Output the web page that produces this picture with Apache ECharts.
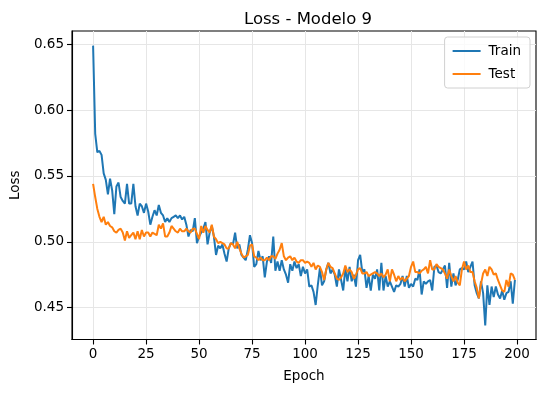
<!DOCTYPE html>
<html>
<head>
<meta charset="utf-8">
<script src="https://cdn.jsdelivr.net/npm/echarts@6/dist/echarts.min.js"></script>
<style>
html,body{margin:0;padding:0;background:#fff;}
#chart{width:545px;height:393px;}
</style>
</head>
<body>
<div id="chart"></div>
<script>
var trainLoss = [
0.649,0.582,0.568,0.569,0.566,0.552,0.547,0.536,0.548,0.539,
0.521,0.542,0.545,0.534,0.531,0.529,0.544,0.529,0.529,0.544,
0.527,0.520,0.529,0.527,0.522,0.529,0.523,0.513,0.519,0.524,
0.520,0.528,0.522,0.520,0.515,0.518,0.515,0.518,0.519,0.520,
0.518,0.520,0.517,0.519,0.513,0.504,0.509,0.508,0.518,0.499,
0.504,0.507,0.510,0.515,0.498,0.507,0.512,0.504,0.490,0.497,
0.495,0.498,0.491,0.485,0.495,0.499,0.498,0.507,0.495,0.498,
0.490,0.488,0.486,0.494,0.505,0.499,0.481,0.483,0.493,0.486,
0.489,0.473,0.485,0.489,0.484,0.504,0.478,0.485,0.478,0.486,
0.479,0.475,0.469,0.483,0.478,0.485,0.480,0.483,0.474,0.481,
0.476,0.479,0.466,0.467,0.462,0.452,0.467,0.480,0.467,0.470,
0.479,0.484,0.476,0.479,0.475,0.466,0.479,0.471,0.463,0.480,
0.470,0.481,0.470,0.475,0.466,0.486,0.490,0.477,0.479,0.465,
0.474,0.463,0.475,0.472,0.479,0.463,0.484,0.463,0.474,0.466,
0.470,0.466,0.462,0.467,0.466,0.468,0.474,0.466,0.474,0.465,
0.468,0.466,0.472,0.471,0.479,0.460,0.470,0.468,0.470,0.471,
0.463,0.481,0.482,0.477,0.476,0.479,0.482,0.465,0.484,0.466,
0.476,0.467,0.471,0.479,0.480,0.479,0.485,0.477,0.481,0.485,
0.467,0.461,0.457,0.470,0.461,0.4365,0.467,0.452,0.466,0.458,
0.466,0.460,0.457,0.463,0.456,0.461,0.462,0.470,0.453,0.471
];
var testLoss = [
0.544,0.534,0.525,0.519,0.515,0.519,0.513,0.515,0.512,0.511,
0.508,0.507,0.509,0.510,0.507,0.501,0.508,0.503,0.505,0.507,
0.502,0.508,0.502,0.509,0.504,0.507,0.507,0.504,0.507,0.506,
0.505,0.513,0.510,0.514,0.504,0.504,0.507,0.512,0.510,0.508,
0.507,0.510,0.508,0.508,0.510,0.508,0.507,0.510,0.510,0.506,
0.502,0.512,0.507,0.512,0.509,0.507,0.513,0.504,0.502,0.499,
0.500,0.499,0.498,0.495,0.495,0.499,0.498,0.495,0.500,0.495,
0.491,0.488,0.489,0.490,0.497,0.498,0.489,0.488,0.486,0.488,
0.486,0.486,0.488,0.486,0.489,0.489,0.487,0.491,0.494,0.499,
0.489,0.486,0.488,0.489,0.486,0.488,0.485,0.484,0.486,0.486,
0.484,0.485,0.484,0.481,0.484,0.479,0.482,0.481,0.477,0.471,
0.479,0.484,0.481,0.480,0.476,0.472,0.471,0.473,0.476,0.482,
0.477,0.479,0.477,0.472,0.475,0.479,0.480,0.476,0.476,0.477,
0.474,0.475,0.476,0.477,0.476,0.474,0.476,0.473,0.475,0.479,
0.470,0.479,0.475,0.470,0.474,0.471,0.473,0.470,0.472,0.474,
0.481,0.485,0.477,0.477,0.476,0.478,0.479,0.481,0.476,0.486,
0.479,0.479,0.483,0.481,0.480,0.479,0.476,0.472,0.479,0.474,
0.470,0.474,0.469,0.467,0.479,0.485,0.479,0.482,0.477,0.477,
0.470,0.465,0.457,0.468,0.476,0.479,0.474,0.481,0.479,0.475,
0.476,0.471,0.467,0.463,0.462,0.471,0.466,0.476,0.475,0.471
];
var xTicks = [0,25,50,75,100,125,150,175,200];
var yTicks = [0.45,0.50,0.55,0.60,0.65];
var seriesNames = ['Train','Test'];
var seriesColors = ['#1f77b4','#ff7f0e'];
var titleText = 'Loss - Modelo 9';
var xName = 'Epoch';
var yName = 'Loss';

function pairs(arr){ return arr.map(function(v,i){ return [i, v]; }); }

var FONT = 'DejaVu Sans';
var chart = echarts.init(document.getElementById('chart'), null, {renderer:'canvas'});
var option = {
  animation: false,
  backgroundColor: '#ffffff',
  title: {
    text: titleText, left: 303, top: 6, textAlign: 'center',
    textStyle: {fontFamily: FONT, fontSize: 16.5, fontWeight: 'normal', color: '#000'}
  },
  grid: {left: 70, right: 9, top: 31, bottom: 53.5, show: true, borderColor: '#000', borderWidth: 1.1, backgroundColor: 'transparent'},
  legend: {
    orient: 'vertical', right: 15, top: 37,
    data: seriesNames,
    icon: 'rect', itemWidth: 28, itemHeight: 2, itemGap: 9,
    padding: [7, 9, 7, 8],
    borderColor: '#d0d0d0', borderWidth: 1, borderRadius: 3,
    backgroundColor: 'rgba(255,255,255,0.8)',
    textStyle: {fontFamily: FONT, fontSize: 13.5, color: '#000', padding: [0,0,0,3]}
  },
  xAxis: {
    type: 'value', min: -9.95, max: 208.95,
    name: xName, nameLocation: 'middle', nameGap: 30,
    nameTextStyle: {fontFamily: FONT, fontSize: 13.5, color: '#000'},
    axisLine: {show: true, onZero: false, lineStyle: {color: '#000', width: 1.1}},
    axisTick: {show: true, length: 5, lineStyle: {color: '#000', width: 1.1}, customValues: xTicks},
    axisLabel: {fontFamily: FONT, fontSize: 13.5, color: '#000', margin: 8, customValues: xTicks},
    splitLine: {show: true, lineStyle: {color: '#e6e6e6', width: 1}}
  },
  yAxis: {
    type: 'value', min: 0.4258, max: 0.6601,
    name: yName, nameLocation: 'middle', nameGap: 50, nameRotate: 90,
    nameTextStyle: {fontFamily: FONT, fontSize: 13.5, color: '#000'},
    axisLine: {show: true, onZero: false, lineStyle: {color: '#000', width: 1.1}},
    axisTick: {show: true, length: 5, lineStyle: {color: '#000', width: 1.1}, customValues: yTicks},
    axisLabel: {fontFamily: FONT, fontSize: 13.5, color: '#000', margin: 8, customValues: yTicks,
      formatter: function(v){ return v.toFixed(2); }},
    splitLine: {show: true, lineStyle: {color: '#e6e6e6', width: 1}}
  },
  series: [
    {name: seriesNames[0], type: 'line', data: pairs(trainLoss), showSymbol: false, symbol: 'none',
     lineStyle: {color: seriesColors[0], width: 2}, itemStyle: {color: seriesColors[0]}, z: 3},
    {name: seriesNames[1], type: 'line', data: pairs(testLoss), showSymbol: false, symbol: 'none',
     lineStyle: {color: seriesColors[1], width: 2}, itemStyle: {color: seriesColors[1]}, z: 4}
  ]
};
chart.setOption(option);
</script>
</body>
</html>
